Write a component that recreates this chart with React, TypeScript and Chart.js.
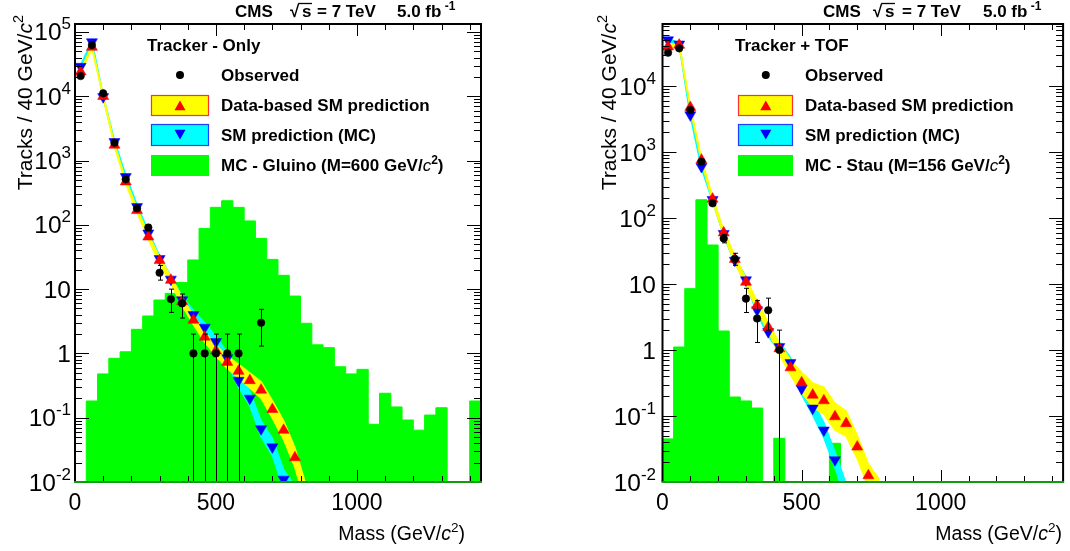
import React, { useEffect, useRef } from "react";
import { Chart, registerables } from "chart.js";
Chart.register(...registerables);

// ---------------- data ----------------
const histBinLow = [0, 40, 80, 120, 160, 200, 240, 280, 320, 360, 400, 440, 480, 520, 560, 600, 640, 680, 720, 760, 800, 840, 880, 920, 960, 1000, 1040, 1080, 1120, 1160, 1200, 1240, 1280, 1320, 1360, 1400];
const histBinWidth = 40;
const massPoints = [20, 60, 100, 140, 180, 220, 260, 300, 340, 380, 420, 460, 500, 540, 580, 620, 660, 700, 740, 780, 820];
const xTickLabels = [0, 500, 1000];
const yDecadesLeft = [-2, -1, 0, 1, 2, 3, 4, 5];
const yDecadesRight = [-2, -1, 0, 1, 2, 3, 4];

// Tracker - Only
const gluinoMC = [0, 0.182, 0.48, 0.84, 1.06, 2.37, 3.82, 6.77, 8.6, 12.7, 28.4, 88, 187, 237, 187, 115, 61.6, 29, 16.4, 7.8, 2.94, 1.36, 1.23, 0.62, 0.48, 0.565, 0.079, 0.24, 0.147, 0.092, 0.064, 0.11, 0.143, 0, 0, 0.182];
const trkObserved = [20600, 62500, 11100, 1890, 510, 181, 91, 18, 7, 6, 1, 1, 1, 1, 1, null, 3];
const trkObsErrUp = [144, 250, 105, 44, 23, 14, 10, 5.3, 3.0, 2.4, 1, 1, 1, 1, 1, null, 1.85];
const trkObsErrDown = [144, 250, 105, 43, 22, 13, 9.5, 4.2, 2.65, 2.45, 1, 1, 1, 1, 1, null, 1.7];
const trkDataPred = [24000, 58000, 10000, 1740, 468, 168, 65, 28, 13.8, 6.4, 3.3, 1.8, 1.1, 0.73, 0.53, 0.38, 0.27, 0.135, 0.064, 0.024, 0.006];
const trkDataRelErr = [0.06, 0.05, 0.05, 0.06, 0.07, 0.08, 0.1, 0.12, 0.14, 0.16, 0.18, 0.2, 0.22, 0.25, 0.28, 0.31, 0.34, 0.37, 0.4, 0.42, 0.45];
const trkMCPred = [29000, 70000, 9800, 1960, 560, 191, 74, 29.7, 14.2, 6.8, 4.0, 2.54, 1.52, 0.85, 0.38, 0.2, 0.067, 0.035, 0.011, 0.006];
const trkMCRelErr = [0.05, 0.04, 0.04, 0.05, 0.06, 0.07, 0.08, 0.1, 0.12, 0.14, 0.16, 0.18, 0.2, 0.23, 0.27, 0.3, 0.33, 0.36, 0.4, 0.45];

// Tracker + TOF
const stauMC = [0.045, 1.11, 8.5, 189, 39, 1.94, 0.194, 0.169, 0.132, 0, 0.046, 0, 0, 0, 0, 0.0386, 0, 0, 0, 0, 0, 0, 0, 0, 0, 0, 0, 0, 0, 0, 0, 0, 0, 0, 0, 0];
const tofObserved = [32000, 37200, 4330, 713, 167, 49, 24, 6, 3, 4, 1];
const tofObsErrUp = [180, 193, 66, 27, 13, 7.5, 5.2, 2.6, 2.6, 2.1, 1];
const tofObsErrDown = [180, 193, 66, 27, 13, 7, 4.8, 2.3, 1.7, 2.0, 1];
const tofDataPred = [39400, 41800, 4760, 757, 194, 59.8, 23.7, 10.7, 4.75, 2.21, 1.05, 0.54, 0.32, 0.208, 0.171, 0.098, 0.077, 0.034, 0.0125, 0.007];
const tofDataRelErr = [0.05, 0.05, 0.06, 0.07, 0.08, 0.1, 0.12, 0.14, 0.16, 0.18, 0.22, 0.3, 0.42, 0.52, 0.6, 0.6, 0.55, 0.5, 0.5, 0.55];
const tofMCPred = [49800, 43000, 3640, 600, 190, 58, 22.8, 11.5, 4.04, 1.89, 1.12, 0.64, 0.26, 0.131, 0.061, 0.0216, 0.007];
const tofMCRelErr = [0.05, 0.05, 0.05, 0.06, 0.07, 0.08, 0.1, 0.12, 0.14, 0.16, 0.18, 0.2, 0.24, 0.27, 0.3, 0.32, 0.35];

// ---------------- styles ----------------
const FAM = '"Liberation Sans", Arial, Helvetica, sans-serif';
const GREEN = "#00ff00";
const YELLOW = "#ffff00";
const CYAN = "#00ffff";
const RED = "#ff0000";
const BLUE = "#0000ff";
const TRI_R = 6.4;

type Run = { t: string; font: string; dy?: number };

function runsWidth(ctx: CanvasRenderingContext2D, runs: Run[]) {
  let w = 0;
  for (const r of runs) {
    ctx.font = r.font;
    w += ctx.measureText(r.t).width;
  }
  return w;
}

function drawRuns(ctx: CanvasRenderingContext2D, runs: Run[], x: number, y: number, align: "left" | "right" | "center") {
  const w = runsWidth(ctx, runs);
  let cx = align === "left" ? x : align === "right" ? x - w : x - w / 2;
  ctx.textAlign = "left";
  ctx.textBaseline = "alphabetic";
  for (const r of runs) {
    ctx.font = r.font;
    ctx.fillText(r.t, cx, y + (r.dy || 0));
    cx += ctx.measureText(r.t).width;
  }
  return cx;
}

function triangle(ctx: CanvasRenderingContext2D, x: number, y: number, r: number, down: boolean, color: string) {
  ctx.beginPath();
  let rad = down ? Math.PI : 0;
  for (let k = 0; k < 3; k++) {
    const px = x + Math.sin(rad) * r;
    const py = y - Math.cos(rad) * r;
    if (k === 0) ctx.moveTo(px, py);
    else ctx.lineTo(px, py);
    rad += (2 * Math.PI) / 3;
  }
  ctx.closePath();
  ctx.fillStyle = color;
  ctx.fill();
}

type PlotCfg = {
  canvasLeft: number;
  padding: { left: number; right: number; top: number; bottom: number };
  yMax: number;
  decades: number[];
  hist: number[];
  observed: (number | null)[];
  obsUp: (number | null)[];
  obsDown: (number | null)[];
  dataPred: number[];
  dataErr: number[];
  mcPred: number[];
  mcErr: number[];
  header: { cms: number; sqrt: number; s: number; eq: number; lumi: number; baseline: number };
  legend: { title: string; titleX: number; markerX: number; textX: number; boxL: number; boxR: number; signal: string };
  xTitleRight: number;
  xTitleBaseline: number;
  yTitleBaseX: number;
  yTitleTop: number;
  yLabelRight: number;
};

const leftCfg: PlotCfg = {
  canvasLeft: 0,
  padding: { left: 75, right: 54, top: 24, bottom: 69 },
  yMax: 1.33e5,
  decades: yDecadesLeft,
  hist: gluinoMC,
  observed: trkObserved,
  obsUp: trkObsErrUp,
  obsDown: trkObsErrDown,
  dataPred: trkDataPred,
  dataErr: trkDataRelErr,
  mcPred: trkMCPred,
  mcErr: trkMCRelErr,
  header: { cms: 235, sqrt: 290, s: 302, eq: 317, lumi: 397, baseline: 17 },
  legend: { title: "Tracker - Only", titleX: 147, markerX: 180, textX: 221, boxL: 151, boxR: 209, signal: "MC - Gluino (M=600 GeV/" },
  xTitleRight: 465,
  xTitleBaseline: 540,
  yTitleBaseX: 31.5,
  yTitleTop: 15,
  yLabelRight: 71,
};

const rightCfg: PlotCfg = {
  canvasLeft: 535,
  padding: { left: 127.5, right: 1, top: 24, bottom: 69 },
  yMax: 8.7e4,
  decades: yDecadesRight,
  hist: stauMC,
  observed: tofObserved,
  obsUp: tofObsErrUp,
  obsDown: tofObsErrDown,
  dataPred: tofDataPred,
  dataErr: tofDataRelErr,
  mcPred: tofMCPred,
  mcErr: tofMCRelErr,
  header: { cms: 288, sqrt: 338, s: 350, eq: 367, lumi: 448, baseline: 17 },
  legend: { title: "Tracker + TOF", titleX: 200, markerX: 230.8, textX: 270, boxL: 203, boxR: 258, signal: "MC - Stau (M=156 GeV/" },
  xTitleRight: 527,
  xTitleBaseline: 540,
  yTitleBaseX: 81,
  yTitleTop: 15,
  yLabelRight: 121,
};

function drawErrors(chart: any, cfg: PlotCfg) {
  const { ctx, chartArea: a } = chart;
  const xs = chart.scales.x;
  const ys = chart.scales.y;
  ctx.save();
  ctx.beginPath();
  ctx.rect(a.left, a.top, a.right - a.left, a.bottom - a.top);
  ctx.clip();
  ctx.strokeStyle = "#000";
  ctx.lineWidth = 1;
  cfg.observed.forEach((v, i) => {
    if (v == null) return;
    const px = Math.round(xs.getPixelForValue(massPoints[i])) + 0.5;
    const hi = v + (cfg.obsUp[i] as number);
    const lo = v - (cfg.obsDown[i] as number);
    const yHi = ys.getPixelForValue(hi);
    const yLo = lo > 0 ? ys.getPixelForValue(lo) : a.bottom;
    ctx.beginPath();
    ctx.moveTo(px, yHi);
    ctx.lineTo(px, yLo);
    ctx.moveTo(px - 2.5, yHi);
    ctx.lineTo(px + 2.5, yHi);
    if (lo > 0) {
      ctx.moveTo(px - 2.5, yLo);
      ctx.lineTo(px + 2.5, yLo);
    }
    ctx.stroke();
  });
  ctx.restore();
}

function drawDecor(chart: any, cfg: PlotCfg) {
  const { ctx, chartArea: a } = chart;
  const xs = chart.scales.x;
  const ys = chart.scales.y;
  ctx.save();

  // ticks
  ctx.strokeStyle = "#000";
  ctx.lineWidth = 1;
  ctx.beginPath();
  for (const d of cfg.decades) {
    for (let k = 1; k <= 9; k++) {
      const v = k * Math.pow(10, d);
      if (v > cfg.yMax) continue;
      const py = Math.round(ys.getPixelForValue(v)) + 0.5;
      const len = k === 1 ? 14 : 7;
      ctx.moveTo(a.left, py);
      ctx.lineTo(a.left + len, py);
      ctx.moveTo(a.right, py);
      ctx.lineTo(a.right - len, py);
    }
  }
  for (let v = 100; v < 1440; v += 100) {
    const px = Math.round(xs.getPixelForValue(v)) + 0.5;
    const len = v % 500 === 0 ? 12 : 6;
    ctx.moveTo(px, a.bottom);
    ctx.lineTo(px, a.bottom - len);
    ctx.moveTo(px, a.top);
    ctx.lineTo(px, a.top + len);
  }
  ctx.stroke();

  // frame
  ctx.lineWidth = 2;
  ctx.strokeStyle = "#000";
  ctx.beginPath();
  ctx.moveTo(a.left, a.bottom);
  ctx.lineTo(a.left, a.top);
  ctx.lineTo(a.right, a.top);
  ctx.lineTo(a.right, a.bottom);
  ctx.stroke();
  ctx.strokeStyle = "#129a12";
  ctx.beginPath();
  ctx.moveTo(a.left - 1, a.bottom);
  ctx.lineTo(a.right + 1, a.bottom);
  ctx.stroke();

  ctx.fillStyle = "#000";
  // x tick labels
  const xTickFont = `23px ${FAM}`;
  for (const v of xTickLabels) {
    drawRuns(ctx, [{ t: String(v), font: xTickFont }], xs.getPixelForValue(v), a.bottom + 28, "center");
  }
  // y tick labels
  const yTickFont = `24.5px ${FAM}`;
  const supFont = `17px ${FAM}`;
  for (const d of cfg.decades) {
    const py = ys.getPixelForValue(Math.pow(10, d)) + 8.5;
    let runs: Run[];
    if (d === 0) runs = [{ t: "1", font: yTickFont }];
    else if (d === 1) runs = [{ t: "10", font: yTickFont }];
    else runs = [{ t: "10", font: yTickFont }, { t: String(d), font: supFont, dy: -11 }];
    drawRuns(ctx, runs, cfg.yLabelRight, py, "right");
  }

  // axis titles
  const tF = `19.5px ${FAM}`;
  const tI = `italic 19.5px ${FAM}`;
  const tS = `13.5px ${FAM}`;
  drawRuns(ctx, [{ t: "Mass (GeV/", font: tF }, { t: "c", font: tI }, { t: "2", font: tS, dy: -8 }, { t: ")", font: tF }], cfg.xTitleRight, cfg.xTitleBaseline, "right");
  const yF = `21px ${FAM}`;
  const yI = `italic 21px ${FAM}`;
  const yS = `14.5px ${FAM}`;
  ctx.save();
  ctx.translate(cfg.yTitleBaseX, cfg.yTitleTop);
  ctx.rotate(-Math.PI / 2);
  drawRuns(ctx, [{ t: "Tracks / 40 GeV/", font: yF }, { t: "c", font: yI }, { t: "2", font: yS, dy: -9 }], 0, 0, "right");
  ctx.restore();

  // header
  const hF = `bold 17px ${FAM}`;
  const hS = `bold 12px ${FAM}`;
  const h = cfg.header;
  drawRuns(ctx, [{ t: "CMS", font: hF }], h.cms, h.baseline, "left");
  const sqrtEnd = drawRuns(ctx, [{ t: "\u221a", font: hF }], h.sqrt, h.baseline, "left");
  const sEnd = drawRuns(ctx, [{ t: "s", font: hF }], h.s, h.baseline, "left");
  ctx.lineWidth = 1.3;
  ctx.strokeStyle = "#000";
  ctx.beginPath();
  ctx.moveTo(sqrtEnd - 1, h.baseline - 13.5);
  ctx.lineTo(sEnd + 0.5, h.baseline - 13.5);
  ctx.stroke();
  drawRuns(ctx, [{ t: "= 7 TeV", font: hF }], h.eq, h.baseline, "left");
  drawRuns(ctx, [{ t: "5.0 fb", font: hF }, { t: " -1", font: hS, dy: -7 }], h.lumi, h.baseline, "left");

  // legend
  const L = cfg.legend;
  const lF = `bold 17px ${FAM}`;
  const lI = `italic 17px ${FAM}`;
  const lS = `bold 12px ${FAM}`;
  drawRuns(ctx, [{ t: L.title, font: lF }], L.titleX, 51, "left");
  // observed
  ctx.fillStyle = "#000";
  ctx.beginPath();
  ctx.arc(L.markerX, 75, 4, 0, Math.PI * 2);
  ctx.fill();
  drawRuns(ctx, [{ t: "Observed", font: lF }], L.textX, 81, "left");
  // data-based
  ctx.fillStyle = YELLOW;
  ctx.fillRect(L.boxL, 95, L.boxR - L.boxL, 21);
  ctx.strokeStyle = "#ff3030";
  ctx.lineWidth = 1.2;
  ctx.strokeRect(L.boxL + 0.5, 95.5, L.boxR - L.boxL - 1, 20);
  triangle(ctx, L.markerX, 107, TRI_R, false, RED);
  ctx.fillStyle = "#000";
  drawRuns(ctx, [{ t: "Data-based SM prediction", font: lF }], L.textX, 111, "left");
  // MC
  ctx.fillStyle = CYAN;
  ctx.fillRect(L.boxL, 124, L.boxR - L.boxL, 22);
  ctx.strokeStyle = "#2040ff";
  ctx.strokeRect(L.boxL + 0.5, 124.5, L.boxR - L.boxL - 1, 21);
  triangle(ctx, L.markerX, 133, TRI_R, true, BLUE);
  ctx.fillStyle = "#000";
  drawRuns(ctx, [{ t: "SM prediction (MC)", font: lF }], L.textX, 141, "left");
  // signal
  ctx.fillStyle = GREEN;
  ctx.fillRect(L.boxL, 155, L.boxR - L.boxL, 21);
  ctx.fillStyle = "#000";
  drawRuns(ctx, [{ t: L.signal, font: lF }, { t: "c", font: lI }, { t: "2", font: lS, dy: -7 }, { t: ")", font: lF }], L.textX, 171, "left");

  ctx.restore();
}

function buildConfig(cfg: PlotCfg): any {
  // step histogram: one point per bin lower edge, plus the closing upper edge
  const histPts = histBinLow.map((b, i) => ({ x: b, y: cfg.hist[i] > 0 ? cfg.hist[i] : 1e-9 }));
  const lastIdx = histBinLow.length - 1;
  histPts.push({ x: histBinLow[lastIdx] + histBinWidth, y: cfg.hist[lastIdx] > 0 ? cfg.hist[lastIdx] : 1e-9 });

  const pts = (vals: (number | null)[]) => vals.map((v, i) => ({ x: massPoints[i], y: v }));
  // band edges: value multiplied / divided by (1 + relative uncertainty)
  const band = (vals: number[], err: number[], up: boolean) =>
    vals.map((v, i) => ({ x: massPoints[i], y: up ? v * (1 + err[i]) : v / (1 + err[i]) }));

  const lineBase = { pointRadius: 0, tension: 0, showLine: true };

  return {
    type: "line",
    data: {
      datasets: [
        { ...lineBase, data: histPts, stepped: "before", fill: "start", backgroundColor: GREEN, borderColor: GREEN, borderWidth: 1, order: 10 },
        { ...lineBase, data: band(cfg.mcPred, cfg.mcErr, true), fill: "+1", backgroundColor: CYAN, borderColor: CYAN, borderWidth: 1.5, order: 9 },
        { ...lineBase, data: band(cfg.mcPred, cfg.mcErr, false), fill: false, borderColor: CYAN, borderWidth: 1.5, order: 9 },
        { ...lineBase, data: band(cfg.dataPred, cfg.dataErr, true), fill: "+1", backgroundColor: YELLOW, borderColor: YELLOW, borderWidth: 1.5, order: 8 },
        { ...lineBase, data: band(cfg.dataPred, cfg.dataErr, false), fill: false, borderColor: YELLOW, borderWidth: 1.5, order: 8 },
        { data: pts(cfg.mcPred), showLine: false, pointStyle: "triangle", rotation: 180, pointRadius: TRI_R, backgroundColor: BLUE, borderColor: BLUE, borderWidth: 0.5, order: 3 },
        { data: pts(cfg.dataPred), showLine: false, pointStyle: "triangle", rotation: 0, pointRadius: TRI_R, backgroundColor: RED, borderColor: RED, borderWidth: 0.5, order: 2 },
        { data: pts(cfg.observed), showLine: false, pointStyle: "circle", pointRadius: 3.8, backgroundColor: "#000", borderColor: "#000", borderWidth: 0.5, order: 1 },
      ],
    },
    options: {
      responsive: false,
      animation: false,
      events: [],
      layout: { padding: cfg.padding },
      scales: {
        x: { type: "linear", display: false, min: 0, max: 1440 },
        y: { type: "logarithmic", display: false, min: 0.01, max: cfg.yMax },
      },
      plugins: { legend: { display: false }, tooltip: { enabled: false } },
    },
    plugins: [
      {
        id: "cmsDecor",
        beforeDatasetDraw(chart: any, args: any) {
          if (args.index === 7) drawErrors(chart, cfg);
        },
        afterDraw(chart: any) {
          drawDecor(chart, cfg);
        },
      },
    ],
  };
}

function Plot({ cfg }: { cfg: PlotCfg }) {
  const ref = useRef<HTMLCanvasElement>(null);
  useEffect(() => {
    const chart = new Chart(ref.current as HTMLCanvasElement, buildConfig(cfg));
    return () => chart.destroy();
  }, [cfg]);
  return (
    <canvas
      ref={ref}
      width={535}
      height={551}
      style={{ position: "absolute", left: cfg.canvasLeft, top: 0, width: 535, height: 551, display: "block" }}
    />
  );
}

export default function App() {
  return (
    <div style={{ position: "fixed", left: 0, top: 0, width: 1070, height: 551, background: "#fff", overflow: "hidden" }}>
      <Plot cfg={leftCfg} />
      <Plot cfg={rightCfg} />
    </div>
  );
}
